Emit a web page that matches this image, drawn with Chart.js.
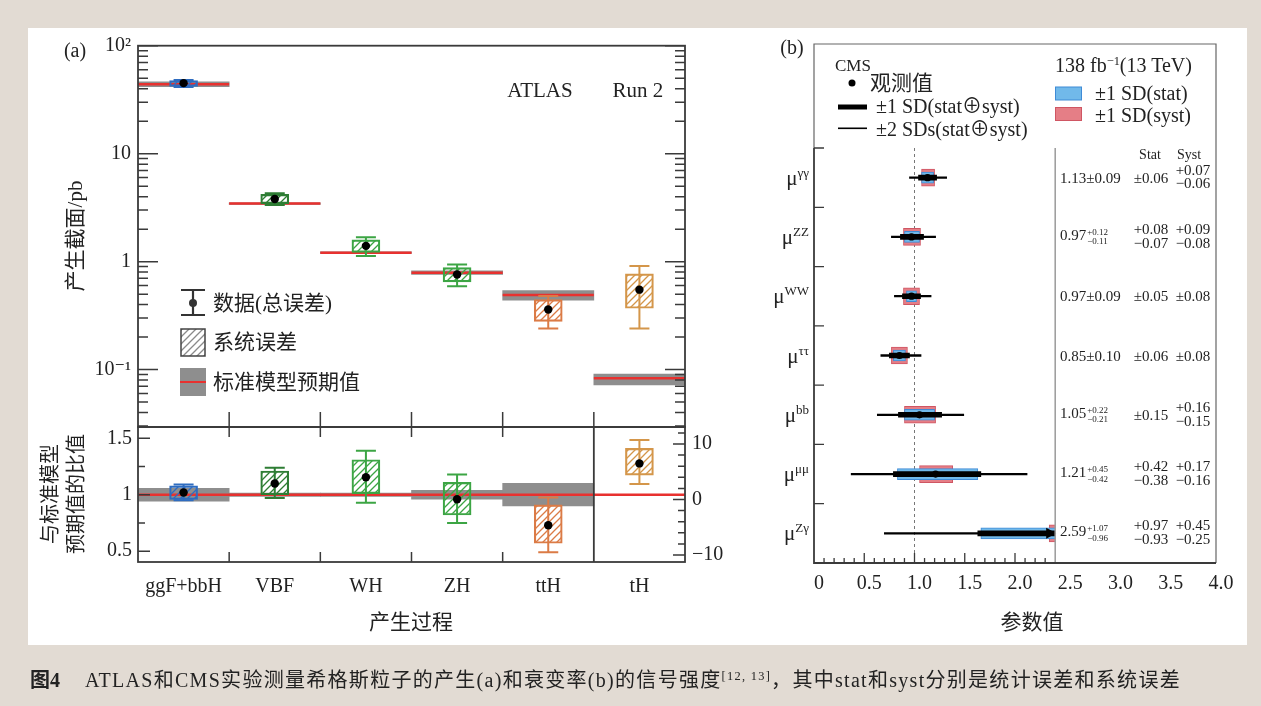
<!DOCTYPE html>
<html>
<head>
<meta charset="utf-8">
<script src="https://cdn.jsdelivr.net/npm/chart.js@4.4.1/dist/chart.umd.min.js"></script>
<style>
html, body { margin: 0; padding: 0; }
body { width: 1261px; height: 706px; background: #e2dbd3; position: relative; overflow: hidden; }
#paper { position: absolute; left: 28px; top: 28px; width: 1219px; height: 617px; background: #fff; }
canvas { position: absolute; left: 0; top: 0; }
#overlay { position: absolute; left: 0; top: 0; width: 1261px; height: 706px; pointer-events: none; }
.lbl { position: absolute; white-space: nowrap; line-height: 1; color: #222;
       font-family: 'Liberation Serif', 'Noto Sans CJK SC', 'DejaVu Serif', serif; }
.lbl sup { font-size: 0.62em; vertical-align: 0.6em; line-height: 0; }
.lbl.stack { line-height: 0.92; text-align: right; }
.pm { display: inline-block; vertical-align: middle; font-size: 9px; line-height: 1.05; margin-left: 1px; text-align: left; }
.pm span { display: block; }
</style>
</head>
<body>
<div id="paper"></div>
<canvas id="cTop" width="1261" height="706"></canvas>
<canvas id="cRatio" width="1261" height="706"></canvas>
<canvas id="cDecay" width="1261" height="706"></canvas>
<div id="overlay"></div>
<script>
// ---------- (a) ATLAS production cross sections ----------
const prodCats   = ['ggF+bbH', 'VBF', 'WH', 'ZH', 'ttH', 'tH'];
const prodColors = ['#2e6cc0', '#2e7d34', '#3ca544', '#3ca544', '#db7b46', '#d4964a'];
const xsecObs    = [45.0, 3.80, 1.40, 0.76, 0.36, 0.55];
const xsecTotLo  = [41.5, 3.35, 1.13, 0.59, 0.24, 0.24];
const xsecTotHi  = [48.0, 4.30, 1.68, 0.94, 0.48, 0.91];
const xsecSysLo  = [42.0, 3.45, 1.22, 0.65, 0.28, 0.37];
const xsecSysHi  = [47.5, 4.20, 1.59, 0.88, 0.445, 0.77];
const xsecSM     = [44.0, 3.45, 1.21, 0.79, 0.49, 0.083];
const xsecSMLo   = [41.7, 3.39, 1.19, 0.76, 0.44, 0.072];
const xsecSMHi   = [46.3, 3.51, 1.23, 0.82, 0.54, 0.091];
const xsecTicks  = [0.1, 1, 10, 100];
const xsecTickLabels = ['10⁻¹', '1', '10', '10²'];

// ratio to SM; tH is read on the right-hand axis
const ratioAxis  = ['y', 'y', 'y', 'y', 'y', 'y2'];
const ratioObs   = [1.02, 1.10, 1.155, 0.96, 0.73, 6.5];
const ratioTotLo = [0.95, 0.97, 0.93, 0.75, 0.49, 2.8];
const ratioTotHi = [1.09, 1.24, 1.39, 1.18, 0.976, 10.7];
const ratioSysLo = [0.958, 1.00, 1.01, 0.82, 0.57, 4.4];
const ratioSysHi = [1.078, 1.21, 1.31, 1.11, 0.91, 9.2];
const ratioSMLo  = [0.944, 0.985, 0.985, 0.96, 0.90, null];
const ratioSMHi  = [1.057, 1.015, 1.015, 1.04, 1.10, null];
const ratioTicks = [0.5, 1, 1.5];
const ratioTickLabels = ['0.5', '1', '1.5'];
const ratioRightTicks = [-10, 0, 10];
const ratioRightTickLabels = ['−10', '0', '10'];

// ---------- (b) CMS decay signal strengths ----------
const decayLabels = ['γγ', 'ZZ', 'WW', 'ττ', 'bb', 'μμ', 'Zγ'];
const muVal   = [1.13, 0.97, 0.97, 0.85, 1.05, 1.21, 2.59];
const totUp   = [0.09, 0.12, 0.09, 0.10, 0.22, 0.45, 1.07];
const totDn   = [0.09, 0.11, 0.09, 0.10, 0.21, 0.42, 0.96];
const statUp  = [0.06, 0.08, 0.05, 0.06, 0.15, 0.42, 0.97];
const statDn  = [0.06, 0.07, 0.05, 0.06, 0.15, 0.38, 0.93];
const systUp  = [0.07, 0.09, 0.08, 0.08, 0.16, 0.17, 0.45];
const systDn  = [0.06, 0.08, 0.08, 0.08, 0.15, 0.16, 0.25];
const twoSdLo = [0.95, 0.77, 0.80, 0.665, 0.63, 0.37, 0.70];
const twoSdHi = [1.32, 1.21, 1.165, 1.065, 1.49, 2.12, 4.7];
const decayTicks = [0, 0.5, 1, 1.5, 2, 2.5, 3, 3.5, 4];
const decayTickLabels = ['0', '0.5', '1.0', '1.5', '2.0', '2.5', '3.0', '3.5', '4.0'];
const decayClip = 2.4;   // plot region ends here, the table starts

// ---------- layout ----------
const W = 1261, H = 706;
const A_LEFT = 138, A_RIGHT = 685, A_TOP = 45.7, A_MID = 427, A_BOT = 562;
const B_LEFT = 814, B_RIGHT = 1216, B_TOP = 148, B_BOT = 563, B_FRAME_TOP = 44;

const serif = "'Liberation Serif', 'DejaVu Serif', serif";
const tickFont = { family: serif, size: 20 };
const INK = '#222';
const FRAME = '#3a3a3a';
const RED = '#e8312f';
const SM_GREY = '#8e8e8e';
const BLUE_FILL = '#71b9ea', BLUE_EDGE = '#3f8bd6';
const PINK_FILL = '#e57e86', PINK_EDGE = '#cf5663';

function hatch(ctx, color) {
  const t = document.createElement('canvas');
  t.width = 7; t.height = 7;
  const g = t.getContext('2d');
  g.strokeStyle = color; g.lineWidth = 1.3;
  g.beginPath();
  g.moveTo(0, 7); g.lineTo(7, 0);
  g.moveTo(-1, 1); g.lineTo(1, -1);
  g.moveTo(6, 8); g.lineTo(8, 6);
  g.stroke();
  return ctx.createPattern(t, 'repeat');
}

function drawErrorBars(ctx, x, scaleFor, lo, hi) {
  ctx.save();
  ctx.lineWidth = 2;
  lo.forEach((l, i) => {
    if (l == null) return;
    const s = scaleFor(i);
    const cx = x.getPixelForValue(i);
    const y1 = s.getPixelForValue(l), y2 = s.getPixelForValue(hi[i]);
    ctx.strokeStyle = prodColors[i];
    ctx.beginPath();
    ctx.moveTo(cx, y1); ctx.lineTo(cx, y2);
    ctx.moveTo(cx - 10, y1); ctx.lineTo(cx + 10, y1);
    ctx.moveTo(cx - 10, y2); ctx.lineTo(cx + 10, y2);
    ctx.stroke();
  });
  ctx.restore();
}

const baseOpts = {
  responsive: false, animation: false, devicePixelRatio: 1, events: [],
  plugins: { legend: { display: false }, tooltip: { enabled: false } }
};
const noGrid = { display: false, drawTicks: false };

// ---------- (a) top: cross sections ----------
const topCtx = document.getElementById('cTop').getContext('2d');
const topPlugin = {
  id: 'topMarks',
  afterDatasetDraw(chart, args) {
    const { ctx, scales: { x, y } } = chart;
    const cw = x.getPixelForValue(1) - x.getPixelForValue(0);
    if (args.index === 2) {
      ctx.save();
      ctx.strokeStyle = RED; ctx.lineWidth = 2.5;
      xsecSM.forEach((v, i) => {
        const cx = x.getPixelForValue(i), py = y.getPixelForValue(v);
        ctx.beginPath(); ctx.moveTo(cx - cw / 2, py); ctx.lineTo(cx + cw / 2, py); ctx.stroke();
      });
      ctx.restore();
    }
    if (args.index === 1) drawErrorBars(ctx, x, () => y, xsecTotLo, xsecTotHi);
  },
  afterDraw(chart) {
    const { ctx, chartArea: ca, scales: { x, y } } = chart;
    ctx.save();
    ctx.strokeStyle = FRAME; ctx.lineWidth = 1.8;
    ctx.strokeRect(ca.left, ca.top, ca.width, ca.height);
    ctx.lineWidth = 1.5;
    ctx.beginPath();
    for (let e = -2; e <= 2; e++) {
      for (let m = 1; m <= 9; m++) {
        const v = m * Math.pow(10, e);
        if (v < y.min || v > y.max * 1.0001) continue;
        const py = y.getPixelForValue(v), len = m === 1 ? 20 : 10;
        ctx.moveTo(ca.left, py); ctx.lineTo(ca.left + len, py);
        ctx.moveTo(ca.right, py); ctx.lineTo(ca.right - len, py);
      }
    }
    for (let i = 0; i < prodCats.length - 1; i++) {
      const bx = (x.getPixelForValue(i) + x.getPixelForValue(i + 1)) / 2;
      ctx.moveTo(bx, ca.bottom); ctx.lineTo(bx, ca.bottom - 15);
    }
    ctx.stroke();

    // legend symbols
    ctx.strokeStyle = '#333'; ctx.lineWidth = 2.2;
    ctx.beginPath();
    ctx.moveTo(193, 290); ctx.lineTo(193, 315);
    ctx.moveTo(181, 290); ctx.lineTo(205, 290);
    ctx.moveTo(181, 315); ctx.lineTo(205, 315);
    ctx.stroke();
    ctx.fillStyle = '#333';
    ctx.beginPath(); ctx.arc(193, 303, 4, 0, Math.PI * 2); ctx.fill();
    ctx.fillStyle = hatch(ctx, '#8a8a8a');
    ctx.fillRect(181, 329, 24, 27);
    ctx.strokeStyle = '#444'; ctx.lineWidth = 1.5;
    ctx.strokeRect(181, 329, 24, 27);
    ctx.fillStyle = SM_GREY;
    ctx.fillRect(180, 368, 26, 28);
    ctx.strokeStyle = RED; ctx.lineWidth = 2;
    ctx.beginPath(); ctx.moveTo(180, 382); ctx.lineTo(206, 382); ctx.stroke();
    ctx.restore();
  }
};

const topChart = new Chart(topCtx, {
  type: 'bar',
  data: {
    labels: prodCats,
    datasets: [
      { type: 'line', data: xsecObs, showLine: false, pointRadius: 4.2,
        pointBackgroundColor: '#000', pointBorderWidth: 0, order: 0 },
      { data: prodCats.map((_, i) => [xsecSysLo[i], xsecSysHi[i]]),
        backgroundColor: prodColors.map(c => hatch(topCtx, c)), borderColor: prodColors,
        borderWidth: 1.5, borderSkipped: false, barThickness: 28, grouped: false, order: 1 },
      { data: prodCats.map((_, i) => [xsecSMLo[i], xsecSMHi[i]]),
        backgroundColor: SM_GREY, borderWidth: 0, barPercentage: 1, categoryPercentage: 1,
        grouped: false, order: 2 }
    ]
  },
  options: {
    ...baseOpts,
    layout: { padding: { left: 0, top: A_TOP, right: W - A_RIGHT, bottom: H - A_MID } },
    scales: {
      x: { type: 'category', display: false, offset: true, grid: noGrid },
      y: { type: 'logarithmic', min: 0.0294, max: 100, grid: noGrid, border: { display: false },
           afterFit: s => { s.width = A_LEFT; },
           afterBuildTicks: s => { s.ticks = xsecTicks.map(v => ({ value: v })); },
           ticks: { font: tickFont, color: INK, padding: 7, autoSkip: false,
                    callback: (v, i) => xsecTickLabels[i] } }
    }
  },
  plugins: [topPlugin]
});

// ---------- (a) bottom: ratio to SM ----------
const ratioCtx = document.getElementById('cRatio').getContext('2d');
const ratioPlugin = {
  id: 'ratioMarks',
  afterDatasetDraw(chart, args) {
    const { ctx, chartArea: ca, scales } = chart;
    if (args.index === 4) {
      const py = scales.y.getPixelForValue(1);
      ctx.save();
      ctx.strokeStyle = RED; ctx.lineWidth = 2.5;
      ctx.beginPath(); ctx.moveTo(ca.left, py); ctx.lineTo(ca.right, py); ctx.stroke();
      ctx.restore();
    }
    if (args.index === 2) drawErrorBars(ctx, scales.x, i => scales[ratioAxis[i]], ratioTotLo, ratioTotHi);
  },
  afterDraw(chart) {
    const { ctx, chartArea: ca, scales: { x, y, y2 } } = chart;
    ctx.save();
    ctx.strokeStyle = FRAME; ctx.lineWidth = 1.8;
    ctx.strokeRect(ca.left, ca.top, ca.width, ca.height);
    const sep = (x.getPixelForValue(4) + x.getPixelForValue(5)) / 2;
    ctx.beginPath(); ctx.moveTo(sep, ca.top); ctx.lineTo(sep, ca.bottom); ctx.stroke();
    ctx.lineWidth = 1.5;
    ctx.beginPath();
    for (let i = 0; i < 4; i++) {
      const bx = (x.getPixelForValue(i) + x.getPixelForValue(i + 1)) / 2;
      ctx.moveTo(bx, ca.top); ctx.lineTo(bx, ca.top + 10);
      ctx.moveTo(bx, ca.bottom); ctx.lineTo(bx, ca.bottom - 10);
    }
    [0.5, 0.75, 1, 1.25, 1.5].forEach(v => {
      const py = y.getPixelForValue(v), len = v % 0.5 === 0 ? 12 : 7;
      ctx.moveTo(ca.left, py); ctx.lineTo(ca.left + len, py);
    });
    for (let v = -10; v <= 12; v += 2) {
      const py = y2.getPixelForValue(v), len = v % 10 === 0 ? 12 : 7;
      ctx.moveTo(ca.right, py); ctx.lineTo(ca.right - len, py);
    }
    ctx.stroke();
    ctx.restore();
  }
};

const ratioChart = new Chart(ratioCtx, {
  type: 'bar',
  data: {
    labels: prodCats,
    datasets: [
      { type: 'line', yAxisID: 'y', data: ratioObs.map((v, i) => ratioAxis[i] === 'y' ? v : null),
        showLine: false, pointRadius: 4.2, pointBackgroundColor: '#000', pointBorderWidth: 0, order: 0 },
      { type: 'line', yAxisID: 'y2', data: ratioObs.map((v, i) => ratioAxis[i] === 'y2' ? v : null),
        showLine: false, pointRadius: 4.2, pointBackgroundColor: '#000', pointBorderWidth: 0, order: 1 },
      { yAxisID: 'y', data: prodCats.map((_, i) => ratioAxis[i] === 'y' ? [ratioSysLo[i], ratioSysHi[i]] : null),
        backgroundColor: prodColors.map(c => hatch(ratioCtx, c)), borderColor: prodColors,
        borderWidth: 1.5, borderSkipped: false, barThickness: 28, grouped: false, order: 2 },
      { yAxisID: 'y2', data: prodCats.map((_, i) => ratioAxis[i] === 'y2' ? [ratioSysLo[i], ratioSysHi[i]] : null),
        backgroundColor: prodColors.map(c => hatch(ratioCtx, c)), borderColor: prodColors,
        borderWidth: 1.5, borderSkipped: false, barThickness: 28, grouped: false, order: 3 },
      { yAxisID: 'y', data: prodCats.map((_, i) => ratioSMLo[i] == null ? null : [ratioSMLo[i], ratioSMHi[i]]),
        backgroundColor: SM_GREY, borderWidth: 0, barPercentage: 1, categoryPercentage: 1,
        grouped: false, order: 4 }
    ]
  },
  options: {
    ...baseOpts,
    layout: { padding: { left: 0, top: A_MID, right: 0, bottom: 0 } },
    scales: {
      x: { type: 'category', offset: true, grid: noGrid, border: { display: false },
           afterFit: s => { s.height = H - A_BOT; },
           ticks: { font: tickFont, color: INK, padding: 13, autoSkip: false, maxRotation: 0 } },
      y: { type: 'linear', position: 'left', min: 0.404, max: 1.6, grid: noGrid, border: { display: false },
           afterFit: s => { s.width = A_LEFT; },
           afterBuildTicks: s => { s.ticks = ratioTicks.map(v => ({ value: v })); },
           ticks: { font: tickFont, color: INK, padding: 6, autoSkip: false,
                    callback: (v, i) => ratioTickLabels[i] } },
      y2: { type: 'linear', position: 'right', min: -11.26, max: 13.06, grid: noGrid, border: { display: false },
            afterFit: s => { s.width = W - A_RIGHT; },
            afterBuildTicks: s => { s.ticks = ratioRightTicks.map(v => ({ value: v })); },
            ticks: { font: tickFont, color: INK, padding: 7, autoSkip: false,
                     callback: (v, i) => ratioRightTickLabels[i] } }
    }
  },
  plugins: [ratioPlugin]
});

// ---------- (b) decay channels ----------
const decayPlugin = {
  id: 'decayMarks',
  beforeDatasetsDraw(chart) {
    const { ctx, chartArea: ca, scales: { x } } = chart;
    ctx.save();
    ctx.strokeStyle = '#777'; ctx.lineWidth = 1; ctx.setLineDash([3, 3]);
    const px = x.getPixelForValue(1);
    ctx.beginPath(); ctx.moveTo(px, ca.top); ctx.lineTo(px, ca.bottom); ctx.stroke();
    ctx.restore();
    ctx.save();
    ctx.beginPath();
    ctx.rect(ca.left, ca.top, x.getPixelForValue(decayClip) - ca.left, ca.height);
    ctx.clip();
  },
  afterDatasetsDraw(chart) {
    const { ctx, scales: { x, y } } = chart;
    ctx.restore();
    const xe = x.getPixelForValue(decayClip);
    ctx.save();
    ctx.fillStyle = '#000';
    muVal.forEach((v, i) => {
      if (v + totUp[i] <= decayClip) return;
      const cy = y.getPixelForValue(i);
      ctx.beginPath(); ctx.moveTo(xe + 1, cy); ctx.lineTo(xe - 9, cy - 5.5); ctx.lineTo(xe - 9, cy + 5.5);
      ctx.closePath(); ctx.fill();
    });
    ctx.restore();
  },
  afterDraw(chart) {
    const { ctx, chartArea: ca, scales: { x, y } } = chart;
    ctx.save();
    // table separator
    const xe = x.getPixelForValue(decayClip);
    ctx.strokeStyle = '#9a9a9a'; ctx.lineWidth = 1.5;
    ctx.beginPath(); ctx.moveTo(xe, ca.top); ctx.lineTo(xe, ca.bottom); ctx.stroke();
    // outer frame
    ctx.strokeStyle = '#666'; ctx.lineWidth = 1.2;
    ctx.beginPath();
    ctx.moveTo(ca.left, ca.top); ctx.lineTo(ca.left, B_FRAME_TOP); ctx.lineTo(ca.right, B_FRAME_TOP);
    ctx.lineTo(ca.right, ca.bottom);
    ctx.stroke();
    // axes
    ctx.strokeStyle = FRAME; ctx.lineWidth = 1.8;
    ctx.beginPath();
    ctx.moveTo(ca.left, ca.top); ctx.lineTo(ca.left, ca.bottom); ctx.lineTo(ca.right, ca.bottom);
    ctx.stroke();
    ctx.lineWidth = 1.3;
    ctx.beginPath();
    for (let i = 0; i < decayLabels.length; i++) {
      const py = i === 0 ? ca.top : (y.getPixelForValue(i - 1) + y.getPixelForValue(i)) / 2;
      ctx.moveTo(ca.left, py); ctx.lineTo(ca.left + 10, py);
    }
    for (let k = 1; k <= 23; k++) {
      const px = x.getPixelForValue(k / 10), len = k % 5 === 0 ? 10 : 5;
      ctx.moveTo(px, ca.bottom); ctx.lineTo(px, ca.bottom - len);
    }
    ctx.stroke();
    // legend symbols
    ctx.fillStyle = '#000';
    ctx.beginPath(); ctx.arc(852, 83, 3.5, 0, Math.PI * 2); ctx.fill();
    ctx.fillRect(838, 104.5, 29, 5);
    ctx.fillRect(838, 127.5, 29, 1.6);
    ctx.lineWidth = 1;
    ctx.fillStyle = BLUE_FILL; ctx.strokeStyle = BLUE_EDGE;
    ctx.fillRect(1055.5, 87, 26, 13); ctx.strokeRect(1055.5, 87, 26, 13);
    ctx.fillStyle = PINK_FILL; ctx.strokeStyle = PINK_EDGE;
    ctx.fillRect(1055.5, 107.5, 26, 13); ctx.strokeRect(1055.5, 107.5, 26, 13);
    ctx.restore();
  }
};

const decayChart = new Chart(document.getElementById('cDecay'), {
  type: 'bar',
  data: {
    labels: decayLabels,
    datasets: [
      { type: 'scatter', data: muVal.map((v, i) => ({ x: v, y: decayLabels[i] })),
        pointRadius: 3.6, pointBackgroundColor: '#000', pointBorderWidth: 0, order: 0 },
      { indexAxis: 'y', data: muVal.map((v, i) => [v - totDn[i], v + totUp[i]]),
        backgroundColor: '#000', borderWidth: 0, barThickness: 5, grouped: false, order: 1 },
      { indexAxis: 'y', data: twoSdLo.map((v, i) => [v, twoSdHi[i]]),
        backgroundColor: '#000', borderWidth: 0, barThickness: 1.6, grouped: false, order: 2 },
      { indexAxis: 'y', data: muVal.map((v, i) => [v - statDn[i], v + statUp[i]]),
        backgroundColor: BLUE_FILL, borderColor: BLUE_EDGE, borderWidth: 1, borderSkipped: false,
        barThickness: 11, grouped: false, order: 3 },
      { indexAxis: 'y', data: muVal.map((v, i) => [v - systDn[i], v + systUp[i]]),
        backgroundColor: PINK_FILL, borderColor: PINK_EDGE, borderWidth: 1, borderSkipped: false,
        barThickness: 17, grouped: false, order: 4 }
    ]
  },
  options: {
    ...baseOpts,
    layout: { padding: { left: 0, top: B_TOP, right: W - B_RIGHT, bottom: 0 } },
    scales: {
      x: { type: 'linear', min: 0, max: 4, offset: false, grid: { ...noGrid, offset: false }, border: { display: false },
           afterFit: s => { s.height = H - B_BOT; },
           afterBuildTicks: s => { s.ticks = decayTicks.map(v => ({ value: v })); },
           ticks: { font: tickFont, color: INK, padding: 9, labelOffset: 5, autoSkip: false, maxRotation: 0,
                    callback: (v, i) => decayTickLabels[i] } },
      y: { type: 'category', offset: true, grid: noGrid, border: { display: false },
           afterFit: s => { s.width = B_LEFT; },
           ticks: { display: false } }
    }
  },
  plugins: [decayPlugin]
});

// ---------- text ----------
const overlay = document.getElementById('overlay');
function label(html, x, y, o = {}) {
  const d = document.createElement('div');
  d.className = 'lbl' + (o.cls ? ' ' + o.cls : '');
  d.innerHTML = html;
  d.style.left = x + 'px';
  d.style.top = y + 'px';
  d.style.fontSize = (o.size || 20) + 'px';
  if (o.bold) d.style.fontWeight = 'bold';
  const tx = o.align === 'left' ? '0' : o.align === 'right' ? '-100%' : '-50%';
  d.style.transform = `translate(${tx}, -50%)` + (o.rotate ? ` rotate(${o.rotate}deg)` : '');
  overlay.appendChild(d);
  return d;
}

label('(a)', 75, 50, { size: 20 });
label('ATLAS', 540, 90, { size: 21 });
label('Run 2', 638, 90, { size: 21 });
label('数据(总误差)', 213, 303, { size: 21, align: 'left' });
label('系统误差', 213, 342, { size: 21, align: 'left' });
label('标准模型预期值', 213, 382, { size: 21, align: 'left' });
label('产生截面/pb', 75, 236, { size: 21, rotate: -90 });
label('与标准模型', 50, 494, { size: 20, rotate: -90 });
label('预期值的比值', 76, 494, { size: 20, rotate: -90 });
label('产生过程', 411, 622, { size: 21 });

label('(b)', 792, 47, { size: 20 });
label('CMS', 835, 65, { size: 17, align: 'left' });
label('观测值', 870, 83, { size: 21, align: 'left' });
label('±1 SD(stat⊕syst)', 876, 106, { size: 20, align: 'left' });
label('±2 SDs(stat⊕syst)', 876, 129, { size: 20, align: 'left' });
label('138 fb<sup>−1</sup>(13 TeV)', 1055, 65, { size: 20, align: 'left' });
label('±1 SD(stat)', 1095, 93, { size: 20, align: 'left' });
label('±1 SD(syst)', 1095, 115, { size: 20, align: 'left' });
label('Stat', 1150, 155, { size: 14 });
label('Syst', 1189, 155, { size: 14 });
label('参数值', 1032, 622, { size: 21 });

const f2 = v => v.toFixed(2);
const ys = decayChart.scales.y;
decayLabels.forEach((lab, i) => {
  const cy = ys.getPixelForValue(i);
  label(`μ<sup>${lab}</sup>`, 809, cy, { size: 21, align: 'right' });
  const main = totUp[i] === totDn[i]
    ? `${f2(muVal[i])}±${f2(totUp[i])}`
    : `${f2(muVal[i])}<span class="pm"><span>+${f2(totUp[i])}</span><span>−${f2(totDn[i])}</span></span>`;
  label(main, 1060, cy, { size: 15, align: 'left' });
  [[statUp, statDn, 1151], [systUp, systDn, 1193]].forEach(([up, dn, cx]) => {
    if (up[i] === dn[i]) label(`±${f2(up[i])}`, cx, cy, { size: 15 });
    else label(`+${f2(up[i])}<br>−${f2(dn[i])}`, cx, cy, { size: 15, cls: 'stack' });
  });
});

label('图4', 30, 680, { size: 20, align: 'left', bold: true });
const cap = label('ATLAS和CMS实验测量希格斯粒子的产生(a)和衰变率(b)的信号强度<sup>[12, 13]</sup>，其中stat和syst分别是统计误差和系统误差',
  85, 680, { size: 20, align: 'left' });
const capW = cap.getBoundingClientRect().width;
cap.style.letterSpacing = Math.max(0, (1096 - capW) / cap.textContent.length) + 'px';
</script>
</body>
</html>
